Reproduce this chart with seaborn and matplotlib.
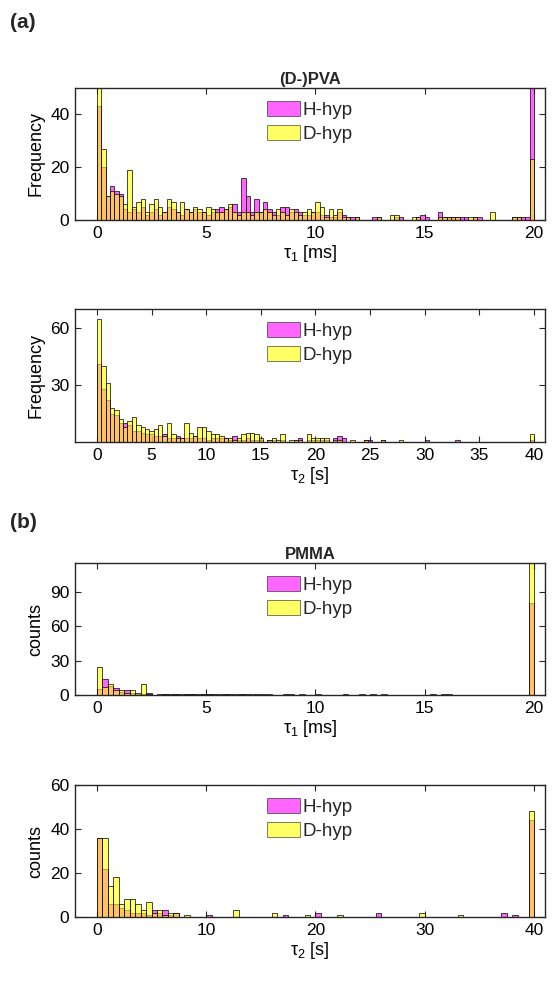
import pandas as pd
import seaborn as sns
import matplotlib.pyplot as plt
from matplotlib.patches import Patch

# bin counts
# (a) (D-)PVA, tau1: 0-20 ms in 0.2 ms bins
pva_t1_h = [43, 20, 9, 13, 11, 10, 4, 3, 4, 3,
            5, 2, 3, 4, 2, 3, 5, 4, 3, 2,
            4, 3, 4, 3, 3, 2, 3, 4, 5, 4,
            5, 6, 3, 16, 9, 3, 8, 3, 7, 4,
            3, 2, 5, 5, 3, 4, 3, 2, 2, 3,
            3, 2, 2, 1, 1, 3, 2, 1, 1, 1,
            0, 0, 0, 1, 1, 0, 0, 0, 1, 1,
            0, 0, 0, 1, 2, 1, 0, 0, 3, 1,
            1, 1, 1, 1, 1, 0, 1, 1, 0, 0,
            0, 0, 0, 0, 0, 1, 1, 1, 1, 62]
pva_t1_d = [55, 27, 9, 11, 10, 9, 6, 19, 5, 7,
            8, 3, 6, 8, 5, 3, 8, 7, 3, 7,
            4, 3, 5, 4, 3, 5, 4, 3, 3, 4,
            6, 3, 2, 3, 3, 2, 3, 3, 4, 3,
            2, 4, 3, 2, 4, 3, 2, 3, 4, 3,
            7, 5, 1, 4, 2, 4, 1, 1, 0, 1,
            0, 0, 0, 0, 1, 0, 0, 2, 2, 0,
            0, 0, 1, 1, 0, 0, 0, 0, 1, 1,
            1, 1, 1, 0, 0, 1, 1, 0, 0, 0,
            3, 0, 0, 0, 0, 1, 1, 0, 0, 23]

# (a) (D-)PVA, tau2: 0-40 s in 0.4 s bins
pva_t2_h = [41, 28, 22, 15, 14, 10, 10, 9, 6, 6,
            5, 4, 4, 3, 3, 4, 2, 2, 3, 2,
            2, 2, 3, 2, 2, 1, 2, 2, 2, 2,
            1, 3, 1, 1, 2, 1, 1, 1, 0, 1,
            1, 0, 1, 0, 0, 1, 2, 0, 1, 1,
            1, 1, 1, 0, 2, 3, 2, 0, 0, 0,
            0, 1, 1, 0, 0, 1, 0, 0, 0, 0,
            0, 0, 0, 0, 0, 1, 0, 0, 0, 0,
            0, 0, 1, 0, 0, 0, 0, 0, 0, 0,
            0, 0, 0, 0, 0, 0, 0, 0, 0, 1]
pva_t2_d = [65, 40, 31, 18, 17, 12, 8, 11, 13, 9,
            8, 7, 6, 7, 9, 3, 10, 4, 2, 2,
            10, 5, 3, 8, 8, 6, 4, 4, 3, 2,
            2, 1, 2, 4, 5, 5, 4, 2, 0, 1,
            2, 1, 4, 0, 1, 1, 1, 0, 4, 2,
            2, 2, 2, 0, 1, 1, 0, 0, 1, 0,
            0, 1, 0, 0, 0, 1, 0, 0, 0, 1,
            0, 0, 0, 0, 0, 0, 0, 0, 0, 0,
            0, 0, 0, 0, 0, 0, 0, 0, 0, 0,
            0, 0, 0, 0, 0, 0, 0, 0, 0, 4]

# (b) PMMA, tau1: 0-20 ms in 0.25 ms bins
pmma_t1_h = [5, 14, 8, 6, 3, 4, 2, 1, 1, 2,
             0, 0, 1, 1, 1, 0, 1, 1, 1, 1,
             1, 1, 0, 1, 1, 0, 1, 1, 0, 1,
             1, 0, 0, 0, 1, 1, 0, 0, 0, 0,
             0, 0, 0, 0, 0, 1, 0, 0, 1, 0,
             1, 0, 0, 0, 0, 0, 0, 0, 0, 0,
             0, 1, 0, 1, 0, 0, 0, 0, 0, 0,
             0, 0, 0, 0, 0, 0, 0, 0, 0, 80]
pmma_t1_d = [24, 7, 10, 4, 4, 2, 4, 2, 10, 1,
             0, 1, 1, 0, 1, 1, 1, 1, 0, 1,
             1, 0, 1, 1, 0, 1, 1, 0, 1, 0,
             0, 1, 0, 0, 0, 0, 0, 1, 0, 0,
             1, 0, 0, 0, 0, 0, 0, 0, 0, 0,
             0, 0, 1, 0, 0, 0, 0, 0, 0, 0,
             0, 0, 0, 0, 1, 0, 0, 0, 0, 0,
             0, 0, 0, 0, 0, 0, 0, 0, 0, 118]

# (b) PMMA, tau2: 0-40 s in 0.5 s bins
pmma_t2_h = [36, 22, 6, 6, 4, 3, 2, 2, 2, 1,
             3, 2, 3, 1, 2, 0, 0, 0, 0, 0,
             1, 0, 0, 0, 0, 0, 0, 0, 0, 0,
             0, 0, 0, 0, 1, 0, 0, 0, 0, 0,
             2, 0, 0, 0, 0, 0, 0, 0, 0, 0,
             0, 2, 0, 0, 0, 0, 0, 0, 0, 0,
             0, 0, 0, 0, 0, 0, 0, 0, 0, 0,
             0, 0, 0, 0, 2, 0, 1, 0, 0, 44]
pmma_t2_d = [36, 36, 14, 18, 6, 8, 8, 6, 3, 7,
             2, 3, 1, 2, 2, 0, 1, 0, 0, 0,
             0, 0, 0, 0, 0, 3, 0, 0, 0, 0,
             0, 0, 2, 0, 0, 0, 0, 0, 1, 0,
             0, 0, 0, 0, 1, 0, 0, 0, 0, 0,
             0, 0, 0, 0, 0, 0, 0, 0, 0, 2,
             0, 0, 0, 0, 0, 0, 1, 0, 0, 0,
             0, 0, 0, 0, 0, 0, 0, 0, 0, 48]

labels = ['H-hyp', 'D-hyp']
colors = ['#FF00FF', '#FFFF00']

sns.set_style('ticks')
plt.rcParams['font.family'] = ['Liberation Sans', 'DejaVu Sans']
plt.rcParams['mathtext.fontset'] = 'custom'
plt.rcParams['mathtext.rm'] = 'Liberation Sans'
plt.rcParams['mathtext.it'] = 'Liberation Sans:italic'
dark = '#262626'


def panel(ax, h, d, width, xlim, ylim, xticks, yticks, xlabel, ylabel):
    edges = [i * width for i in range(len(h) + 1)]
    df = pd.DataFrame({'t': [e + width / 2 for e in edges[:-1]], 'H': h, 'D': d})
    for col, c in zip(['H', 'D'], colors):
        sns.histplot(data=df, x='t', weights=col, bins=edges, color=c, alpha=0.6,
                     edgecolor='black', linewidth=0.5, ax=ax)
    ax.set_xlim(xlim)
    ax.set_ylim(ylim)
    ax.set_xticks(xticks)
    ax.set_yticks(yticks)
    ax.set_xlabel(xlabel, fontsize=13, color='black', labelpad=2)
    ax.set_ylabel(ylabel, fontsize=13, color='black', labelpad=4)
    ax.tick_params(direction='in', top=True, right=True, length=4, width=0.8,
                   labelsize=12.5, colors=dark, labelcolor='black', pad=4)
    for s in ax.spines.values():
        s.set_color(dark)
        s.set_linewidth(1.0)
    handles = [Patch(facecolor=c, alpha=0.6, edgecolor='black', linewidth=0.6)
               for c in colors]
    ax.legend(handles, labels, loc='upper center', bbox_to_anchor=(0.5, 1.0),
              frameon=False, fontsize=13.5, handlelength=1.75, handleheight=0.85,
              handletextpad=0.15, labelspacing=0.3, borderaxespad=0.3)


fig = plt.figure(figsize=(5.56, 9.81), dpi=100)
W, H = 556, 981


def add(top, bottom):
    return fig.add_axes([75 / W, 1 - bottom / H, 470 / W, (bottom - top) / H])


ax1 = add(88, 220)
panel(ax1, pva_t1_h, pva_t1_d, 0.2, (-1, 20.5), (0, 50), [0, 5, 10, 15, 20],
      [0, 20, 40], r'$\mathregular{\tau_1}$ [ms]', 'Frequency')
ax1.set_title('(D-)PVA', fontsize=12, fontweight='bold', pad=3)

ax2 = add(309, 442)
panel(ax2, pva_t2_h, pva_t2_d, 0.4, (-2, 41), (0, 70), list(range(0, 41, 5)),
      [30, 60], r'$\mathregular{\tau_2}$ [s]', 'Frequency')

ax3 = add(563, 695)
panel(ax3, pmma_t1_h, pmma_t1_d, 0.25, (-1, 20.5), (0, 115), [0, 5, 10, 15, 20],
      [0, 30, 60, 90], r'$\mathregular{\tau_1}$ [ms]', 'counts')
ax3.set_title('PMMA', fontsize=12, fontweight='bold', pad=3)

ax4 = add(785, 917)
panel(ax4, pmma_t2_h, pmma_t2_d, 0.5, (-2, 41), (0, 60), [0, 10, 20, 30, 40],
      [0, 20, 40, 60], r'$\mathregular{\tau_2}$ [s]', 'counts')

fig.text(10 / W, 1 - 22 / H, '(a)', fontsize=15, fontweight='bold', va='center')
fig.text(10 / W, 1 - 522 / H, '(b)', fontsize=15, fontweight='bold', va='center')

fig.savefig('out.png', dpi=100)
